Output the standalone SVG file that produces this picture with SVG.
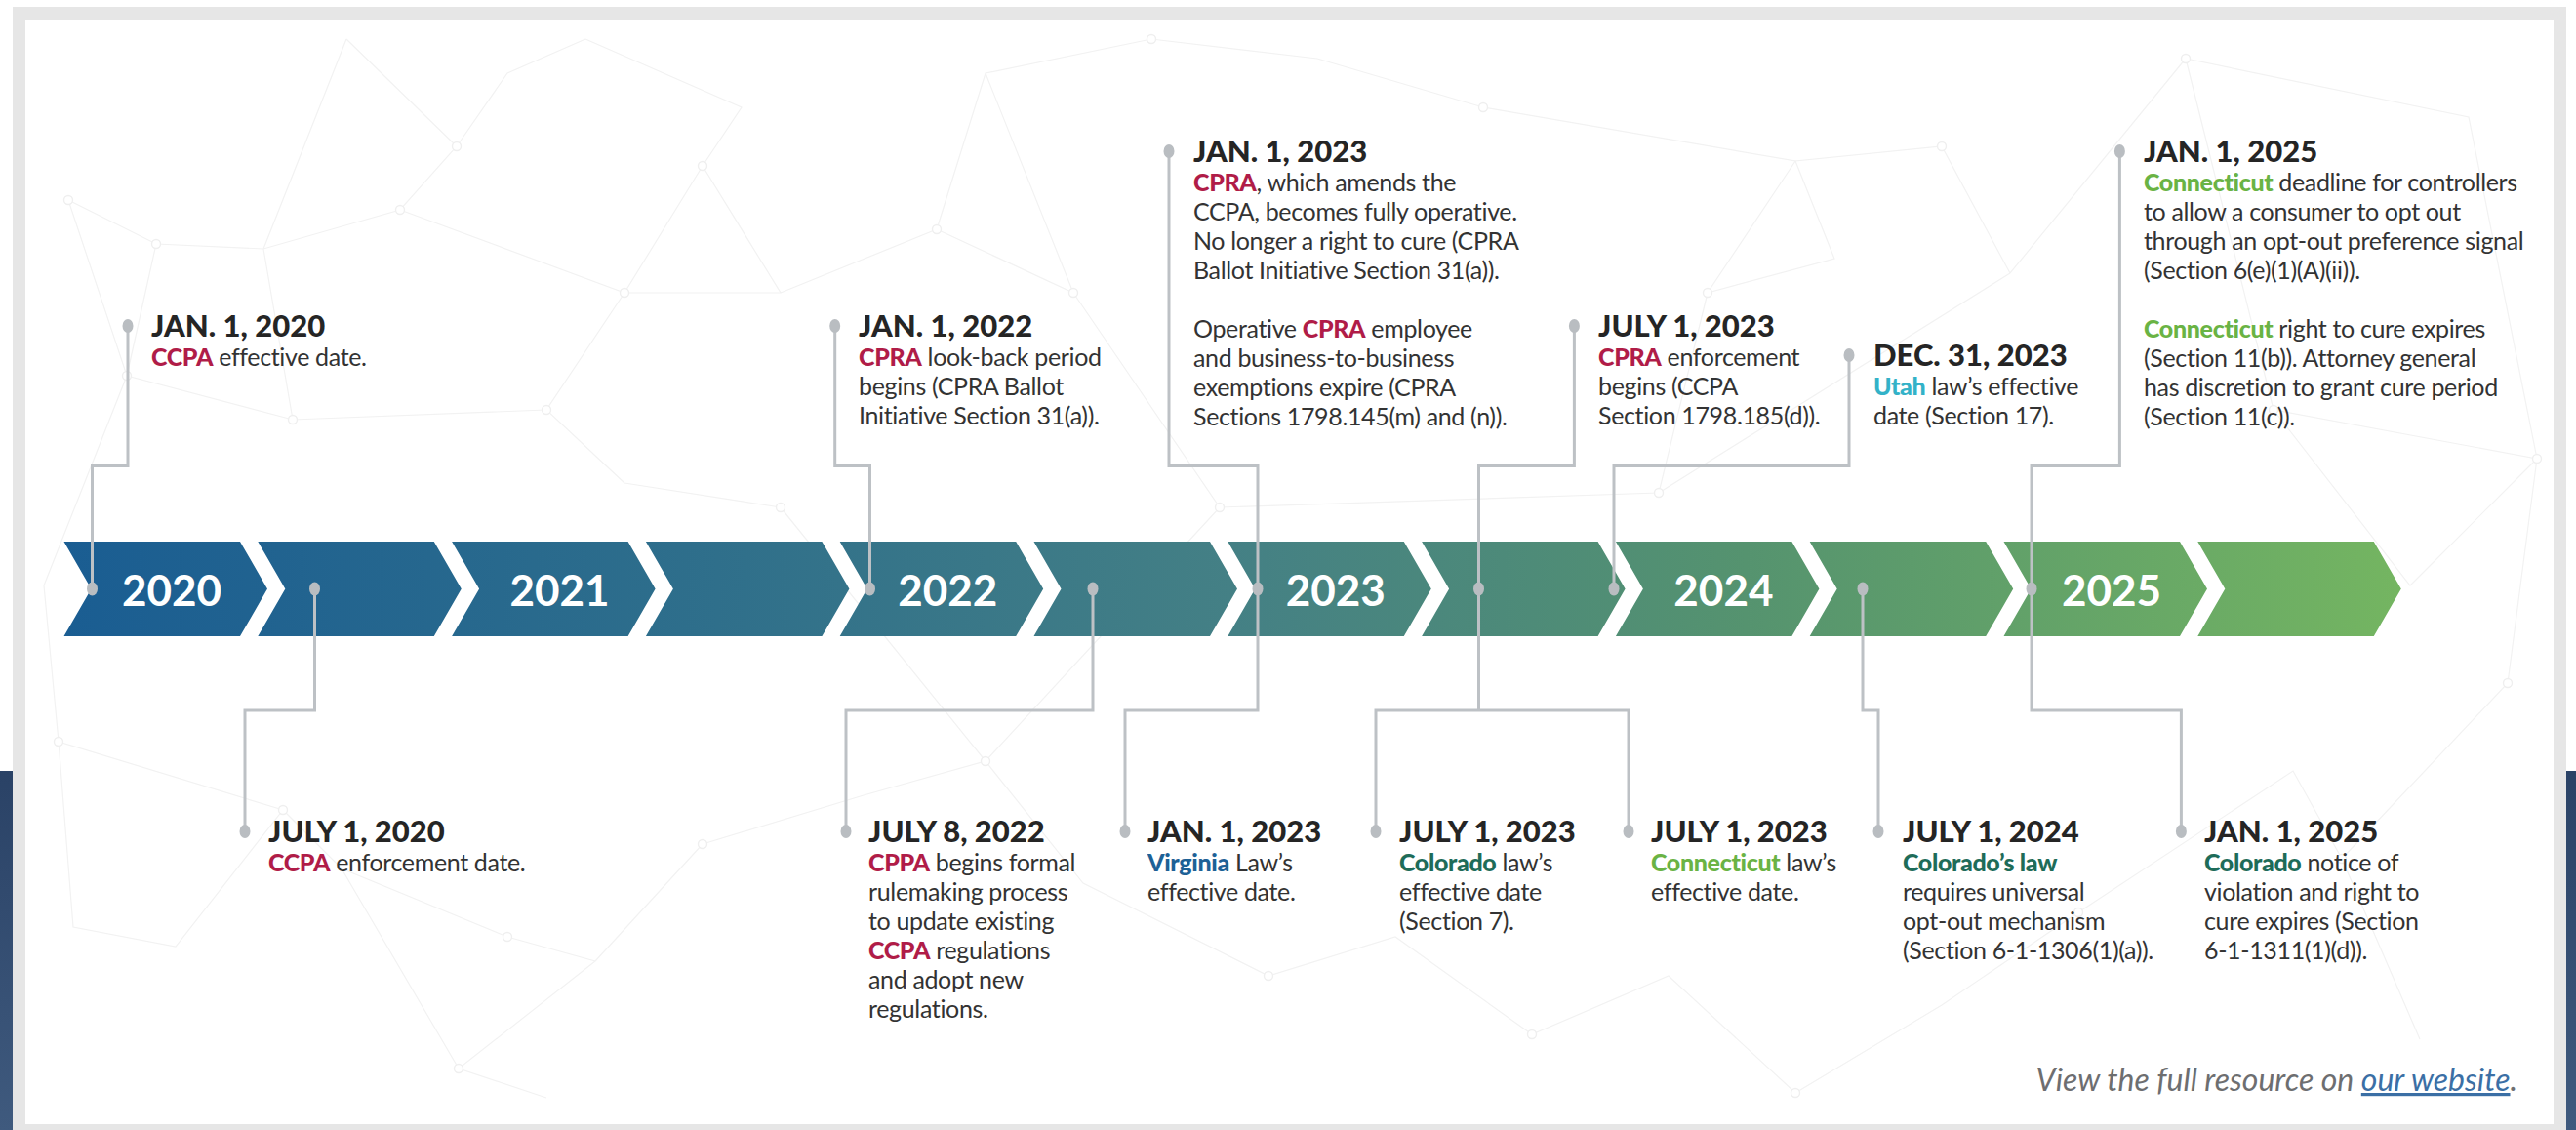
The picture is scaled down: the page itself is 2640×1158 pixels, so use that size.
<svg xmlns="http://www.w3.org/2000/svg" width="2640" height="1158" viewBox="0 0 2640 1158">
  <defs>
    <linearGradient id="bandGrad" gradientUnits="userSpaceOnUse" x1="64" y1="0" x2="2460" y2="0">
      <stop offset="0" stop-color="#1a5d92"/>
      <stop offset="0.28" stop-color="#2f6f8b"/>
      <stop offset="0.5" stop-color="#448085"/>
      <stop offset="0.72" stop-color="#55936f"/>
      <stop offset="1" stop-color="#74b561"/>
    </linearGradient>
    <linearGradient id="navyGrad" x1="0" y1="0" x2="0" y2="1">
      <stop offset="0" stop-color="#2a4266"/>
      <stop offset="1" stop-color="#3f5a7e"/>
    </linearGradient>
    <style>
      .chev { fill: url(#bandGrad); }
      .yr { font-family: Lato, "Liberation Sans", sans-serif; font-weight: 700; font-size: 44px; fill: #ffffff; text-anchor: middle; }
      .wire { fill: none; stroke: #bdc1c5; stroke-width: 3; stroke-linejoin: miter; }
      .dot { fill: #b9bdc1; }
      .mesh { fill: none; stroke: #f2f2f2; stroke-width: 1.2; }
      .meshdot { fill: #ffffff; stroke: #efefef; stroke-width: 1.4; }
      .t { font-family: Lato, "Liberation Sans", sans-serif; font-weight: 900; font-size: 31px; fill: #252525; }
      .b { font-family: Lato, "Liberation Sans", sans-serif; font-size: 25px; letter-spacing: -0.35px; fill: #333333; }
      .k { font-weight: 900; }
      .red { fill: #b01c48; }
      .va { fill: #1d6196; }
      .co { fill: #1e6c59; }
      .ct { fill: #6ab344; }
      .ut { fill: #33b2c8; }
      .foot { font-family: Lato, "Liberation Sans", sans-serif; font-style: italic; font-size: 32px; fill: #6d6e70; text-anchor: end; }
      .link { fill: #3b6fa5; text-decoration: underline; }
    </style>
  </defs>

  <!-- page surround and frame -->
  <g id="frame">
    <rect x="0" y="0" width="2640" height="1158" fill="#ffffff"/>
    <rect x="0" y="790" width="14" height="368" fill="url(#navyGrad)"/>
    <rect x="2629" y="790" width="11" height="368" fill="url(#navyGrad)"/>
    <rect x="13" y="7" width="2617" height="1160" fill="#e6e6e6"/>
    <rect x="26" y="20" width="2591" height="1132" fill="#ffffff"/>
  </g>

  <!-- faint network texture behind the timeline -->
  <g id="backdrop">
    <path class="mesh" d="M70,205 L160,250 L270,255 L410,215 L468,150 L520,75 L600,40 M355,40 L468,150 M355,40 L270,255 M410,215 L640,300 L720,170 L760,110 L600,40 M640,300 L800,300 L720,170 M640,300 L560,420 L640,495 M560,420 L300,430 L130,385 L70,205 M130,385 L160,250 M300,430 L270,255 M45,600 L130,385 M45,600 L60,760 L75,950 L180,970 L290,830 L350,890 L520,960 L610,985 L470,1095 L560,1125 M470,1095 L350,890 M290,830 L60,760 M720,865 L610,985 M720,865 L885,815 L1010,780 L1110,905 L1300,1000 L1430,960 L1570,1060 L1710,1000 L1840,1120 L1990,1030 L2130,935 L2350,790 L2400,880 L2480,1065 M2400,880 L2570,700 L2600,470 L2470,600 L2330,420 L2600,470 L2530,120 L2240,60 L2330,420 M2240,60 L2060,280 L1990,150 L1840,165 L1880,265 L1750,300 L1840,165 L1520,110 L1350,60 L1180,40 L1010,75 L960,235 L1100,300 L1010,75 M960,235 L800,300 M1100,300 L1250,520 L1700,505 L1750,300 M800,520 L640,495 M800,520 L1010,780 L1250,520 M1700,505 L2060,280"/>
    <g class="meshdot">
      <circle cx="70" cy="205" r="4.5"/><circle cx="160" cy="250" r="4.5"/><circle cx="410" cy="215" r="4.5"/>
      <circle cx="468" cy="150" r="4.5"/><circle cx="640" cy="300" r="4.5"/><circle cx="720" cy="170" r="4.5"/>
      <circle cx="560" cy="420" r="4.5"/><circle cx="300" cy="430" r="4.5"/><circle cx="130" cy="385" r="4.5"/>
      <circle cx="60" cy="760" r="4.5"/><circle cx="290" cy="830" r="4.5"/><circle cx="520" cy="960" r="4.5"/>
      <circle cx="470" cy="1095" r="4.5"/><circle cx="720" cy="865" r="4.5"/><circle cx="1010" cy="780" r="4.5"/>
      <circle cx="1300" cy="1000" r="4.5"/><circle cx="1570" cy="1060" r="4.5"/><circle cx="1840" cy="1120" r="4.5"/>
      <circle cx="2130" cy="935" r="4.5"/><circle cx="2400" cy="880" r="4.5"/><circle cx="2570" cy="700" r="4.5"/>
      <circle cx="2600" cy="470" r="4.5"/><circle cx="2330" cy="420" r="4.5"/><circle cx="2240" cy="60" r="4.5"/>
      <circle cx="1990" cy="150" r="4.5"/><circle cx="1750" cy="300" r="4.5"/><circle cx="1520" cy="110" r="4.5"/>
      <circle cx="1180" cy="40" r="4.5"/><circle cx="960" cy="235" r="4.5"/><circle cx="1100" cy="300" r="4.5"/>
      <circle cx="1250" cy="520" r="4.5"/><circle cx="1700" cy="505" r="4.5"/><circle cx="800" cy="520" r="4.5"/>
    </g>
  </g>

  <!-- chevron band, two chevrons per year -->
  <g id="timeline-band">
    <path class="chev" d="M65.5,555 H246 L274,603.5 L246,652 H65.5 L93.5,603.5 Z"/>
    <path class="chev" d="M264.3,555 H444.8 L472.8,603.5 L444.8,652 H264.3 L292.3,603.5 Z"/>
    <path class="chev" d="M463.1,555 H643.6 L671.6,603.5 L643.6,652 H463.1 L491.1,603.5 Z"/>
    <path class="chev" d="M661.9,555 H842.4 L870.4,603.5 L842.4,652 H661.9 L689.9,603.5 Z"/>
    <path class="chev" d="M860.7,555 H1041.2 L1069.2,603.5 L1041.2,652 H860.7 L888.7,603.5 Z"/>
    <path class="chev" d="M1059.5,555 H1240 L1268,603.5 L1240,652 H1059.5 L1087.5,603.5 Z"/>
    <path class="chev" d="M1258.3,555 H1438.8 L1466.8,603.5 L1438.8,652 H1258.3 L1286.3,603.5 Z"/>
    <path class="chev" d="M1457.1,555 H1637.6 L1665.6,603.5 L1637.6,652 H1457.1 L1485.1,603.5 Z"/>
    <path class="chev" d="M1655.9,555 H1836.4 L1864.4,603.5 L1836.4,652 H1655.9 L1683.9,603.5 Z"/>
    <path class="chev" d="M1854.7,555 H2035.2 L2063.2,603.5 L2035.2,652 H1854.7 L1882.7,603.5 Z"/>
    <path class="chev" d="M2053.5,555 H2234 L2262,603.5 L2234,652 H2053.5 L2081.5,603.5 Z"/>
    <path class="chev" d="M2252.3,555 H2432.8 L2460.8,603.5 L2432.8,652 H2252.3 L2280.3,603.5 Z"/>
    <text class="yr" x="176" y="621">2020</text>
    <text class="yr" x="573.6" y="621">2021</text>
    <text class="yr" x="971.2" y="621">2022</text>
    <text class="yr" x="1368.8" y="621">2023</text>
    <text class="yr" x="1766.4" y="621">2024</text>
    <text class="yr" x="2164" y="621">2025</text>
  </g>

  <!-- elbow leaders from the band to each milestone -->
  <g id="connectors">
    <path class="wire" d="M131,334 V477.5 H94.5 V603.5"/>
    <path class="wire" d="M855.7,334 V477.5 H891.5 V603.5"/>
    <path class="wire" d="M1198,155 V477.5 H1289 V728 H1153 V852"/>
    <path class="wire" d="M1613.4,334 V477.5 H1515.5 V728"/>
    <path class="wire" d="M1410,852 V728 H1669 V852"/>
    <path class="wire" d="M1895,364 V477.5 H1654 V603.5"/>
    <path class="wire" d="M2172.4,155 V477.5 H2082 V728 H2235.4 V852"/>
    <path class="wire" d="M322.5,603.5 V728 H251 V852"/>
    <path class="wire" d="M1120,603.5 V728 H867 V852"/>
    <path class="wire" d="M1909,603.5 V728 H1925 V852"/>
    <g class="dot">
      <ellipse cx="94.5" cy="603.5" rx="5.5" ry="7"/>
      <ellipse cx="322.5" cy="603.5" rx="5.5" ry="7"/>
      <ellipse cx="891.5" cy="603.5" rx="5.5" ry="7"/>
      <ellipse cx="1120" cy="603.5" rx="5.5" ry="7"/>
      <ellipse cx="1289" cy="603.5" rx="5.5" ry="7"/>
      <ellipse cx="1515.5" cy="603.5" rx="5.5" ry="7"/>
      <ellipse cx="1654" cy="603.5" rx="5.5" ry="7"/>
      <ellipse cx="1909" cy="603.5" rx="5.5" ry="7"/>
      <ellipse cx="2082" cy="603.5" rx="5.5" ry="7"/>
    </g>
  </g>

  <!-- milestones above the band -->
  <g id="ev-2020-01-01">
    <ellipse class="dot" cx="131" cy="334" rx="5.5" ry="7"/>
    <text class="t" x="155" y="345">JAN. 1, 2020</text>
    <text class="b" x="155" y="375"><tspan class="k red">CCPA</tspan> effective date.</text>
  </g>

  <g id="ev-2022-01-01">
    <ellipse class="dot" cx="855.7" cy="334" rx="5.5" ry="7"/>
    <text class="t" x="880" y="345">JAN. 1, 2022</text>
    <text class="b" x="880" y="375"><tspan class="k red">CPRA</tspan> look-back period</text>
    <text class="b" x="880" y="405">begins (CPRA Ballot</text>
    <text class="b" x="880" y="435">Initiative Section 31(a)).</text>
  </g>

  <g id="ev-2023-01-01-cpra">
    <ellipse class="dot" cx="1198" cy="155" rx="5.5" ry="7"/>
    <text class="t" x="1223" y="166">JAN. 1, 2023</text>
    <text class="b" x="1223" y="196"><tspan class="k red">CPRA</tspan>, which amends the</text>
    <text class="b" x="1223" y="226">CCPA, becomes fully operative.</text>
    <text class="b" x="1223" y="256">No longer a right to cure (CPRA</text>
    <text class="b" x="1223" y="286">Ballot Initiative Section 31(a)).</text>
    <text class="b" x="1223" y="346">Operative <tspan class="k red">CPRA</tspan> employee</text>
    <text class="b" x="1223" y="376">and business-to-business</text>
    <text class="b" x="1223" y="406">exemptions expire (CPRA</text>
    <text class="b" x="1223" y="436">Sections 1798.145(m) and (n)).</text>
  </g>

  <g id="ev-2023-07-01-cpra">
    <ellipse class="dot" cx="1613.4" cy="334" rx="5.5" ry="7"/>
    <text class="t" x="1638" y="345">JULY 1, 2023</text>
    <text class="b" x="1638" y="375"><tspan class="k red">CPRA</tspan> enforcement</text>
    <text class="b" x="1638" y="405">begins (CCPA</text>
    <text class="b" x="1638" y="435">Section 1798.185(d)).</text>
  </g>

  <g id="ev-2023-12-31">
    <ellipse class="dot" cx="1895" cy="364" rx="5.5" ry="7"/>
    <text class="t" x="1920" y="375">DEC. 31, 2023</text>
    <text class="b" x="1920" y="405"><tspan class="k ut">Utah</tspan> law’s effective</text>
    <text class="b" x="1920" y="435">date (Section 17).</text>
  </g>

  <g id="ev-2025-01-01-ct">
    <ellipse class="dot" cx="2172.4" cy="155" rx="5.5" ry="7"/>
    <text class="t" x="2197" y="166">JAN. 1, 2025</text>
    <text class="b" x="2197" y="196"><tspan class="k ct">Connecticut</tspan> deadline for controllers</text>
    <text class="b" x="2197" y="226">to allow a consumer to opt out</text>
    <text class="b" x="2197" y="256">through an opt-out preference signal</text>
    <text class="b" x="2197" y="286">(Section 6(e)(1)(A)(ii)).</text>
    <text class="b" x="2197" y="346"><tspan class="k ct">Connecticut</tspan> right to cure expires</text>
    <text class="b" x="2197" y="376">(Section 11(b)). Attorney general</text>
    <text class="b" x="2197" y="406">has discretion to grant cure period</text>
    <text class="b" x="2197" y="436">(Section 11(c)).</text>
  </g>

  <!-- milestones below the band -->
  <g id="ev-2020-07-01">
    <ellipse class="dot" cx="251" cy="852" rx="5.5" ry="7"/>
    <text class="t" x="275" y="863">JULY 1, 2020</text>
    <text class="b" x="275" y="893"><tspan class="k red">CCPA</tspan> enforcement date.</text>
  </g>

  <g id="ev-2022-07-08">
    <ellipse class="dot" cx="867" cy="852" rx="5.5" ry="7"/>
    <text class="t" x="890" y="863">JULY 8, 2022</text>
    <text class="b" x="890" y="893"><tspan class="k red">CPPA</tspan> begins formal</text>
    <text class="b" x="890" y="923">rulemaking process</text>
    <text class="b" x="890" y="953">to update existing</text>
    <text class="b" x="890" y="983"><tspan class="k red">CCPA</tspan> regulations</text>
    <text class="b" x="890" y="1013">and adopt new</text>
    <text class="b" x="890" y="1043">regulations.</text>
  </g>

  <g id="ev-2023-01-01-va">
    <ellipse class="dot" cx="1153" cy="852" rx="5.5" ry="7"/>
    <text class="t" x="1176" y="863">JAN. 1, 2023</text>
    <text class="b" x="1176" y="893"><tspan class="k va">Virginia</tspan> Law’s</text>
    <text class="b" x="1176" y="923">effective date.</text>
  </g>

  <g id="ev-2023-07-01-co">
    <ellipse class="dot" cx="1410" cy="852" rx="5.5" ry="7"/>
    <text class="t" x="1434" y="863">JULY 1, 2023</text>
    <text class="b" x="1434" y="893"><tspan class="k co">Colorado</tspan> law’s</text>
    <text class="b" x="1434" y="923">effective date</text>
    <text class="b" x="1434" y="953">(Section 7).</text>
  </g>

  <g id="ev-2023-07-01-ct">
    <ellipse class="dot" cx="1669" cy="852" rx="5.5" ry="7"/>
    <text class="t" x="1692" y="863">JULY 1, 2023</text>
    <text class="b" x="1692" y="893"><tspan class="k ct">Connecticut</tspan> law’s</text>
    <text class="b" x="1692" y="923">effective date.</text>
  </g>

  <g id="ev-2024-07-01">
    <ellipse class="dot" cx="1925" cy="852" rx="5.5" ry="7"/>
    <text class="t" x="1950" y="863">JULY 1, 2024</text>
    <text class="b" x="1950" y="893"><tspan class="k co">Colorado’s law</tspan></text>
    <text class="b" x="1950" y="923">requires universal</text>
    <text class="b" x="1950" y="953">opt-out mechanism</text>
    <text class="b" x="1950" y="983">(Section 6-1-1306(1)(a)).</text>
  </g>

  <g id="ev-2025-01-01-co">
    <ellipse class="dot" cx="2235.4" cy="852" rx="5.5" ry="7"/>
    <text class="t" x="2259" y="863">JAN. 1, 2025</text>
    <text class="b" x="2259" y="893"><tspan class="k co">Colorado</tspan> notice of</text>
    <text class="b" x="2259" y="923">violation and right to</text>
    <text class="b" x="2259" y="953">cure expires (Section</text>
    <text class="b" x="2259" y="983">6-1-1311(1)(d)).</text>
  </g>

  <g id="footer">
    <text class="foot" x="2580" y="1118">View the full resource on <tspan class="link">our website</tspan>.</text>
  </g>
</svg>
